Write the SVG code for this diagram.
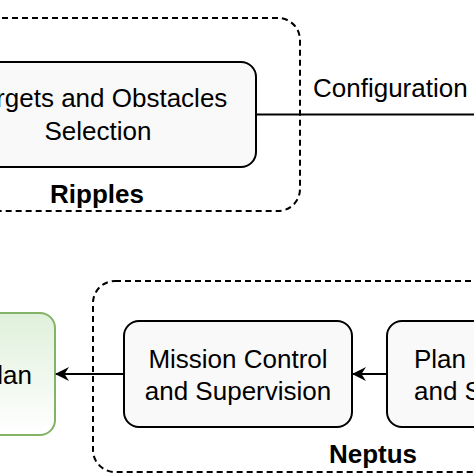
<svg xmlns="http://www.w3.org/2000/svg" width="474" height="474" viewBox="0 0 474 474">
<defs>
<linearGradient id="g" x1="0" y1="0" x2="0" y2="1">
<stop offset="0" stop-color="#dff0da"/>
<stop offset="1" stop-color="#ffffff"/>
</linearGradient>
<marker id="ah" viewBox="0 0 14 14" refX="13" refY="7" markerWidth="14" markerHeight="14" markerUnits="userSpaceOnUse" orient="auto">
<path d="M0,0 L14,7 L0,14 L4.5,7 Z" fill="#000"/>
</marker>
<style>
.t{font-family:"Liberation Sans",Arial,sans-serif;font-size:26px;fill:#000}
.b{font-family:"Liberation Sans",Arial,sans-serif;font-size:26px;font-weight:bold;fill:#000}
.grp{fill:none;stroke:#000;stroke-width:2;stroke-dasharray:6 4}
.box{fill:#f9f9f9;stroke:#000;stroke-width:2}
.ln{fill:none;stroke:#000;stroke-width:2}
</style>
</defs>
<rect width="474" height="474" fill="#fff"/>
<g id="ripples">
<rect class="grp" x="-80" y="18" width="380" height="193" rx="22"/>
<text class="b" x="97" y="203" text-anchor="middle">Ripples</text>
</g>
<g id="neptus">
<rect class="grp" x="93" y="281" width="420" height="191" rx="22"/>
<text class="b" x="373" y="463" text-anchor="middle">Neptus</text>
</g>
<g id="targets">
<rect class="box" x="-61" y="62" width="317" height="105" rx="15"/>
<text class="t" x="98" y="107" text-anchor="middle">Targets and Obstacles</text>
<text class="t" x="98" y="140" text-anchor="middle">Selection</text>
</g>
<g id="plan-out">
<rect x="-80" y="313" width="135" height="122" rx="15" fill="url(#g)" stroke="#82b366" stroke-width="2"/>
<text class="t" x="32" y="384" text-anchor="end">Plan</text>
</g>
<g id="mission">
<rect class="box" x="124" y="321" width="228" height="106" rx="15"/>
<text class="t" x="238" y="368" text-anchor="middle">Mission Control</text>
<text class="t" x="238" y="400" text-anchor="middle">and Supervision</text>
</g>
<g id="plan-gen">
<rect class="box" x="387" y="321" width="200" height="106" rx="15"/>
<text class="t" x="414" y="368">Plan</text>
<text class="t" x="414" y="400">and S</text>
</g>
<g id="connectors">
<line class="ln" x1="257" y1="114.5" x2="480" y2="114.5"/>
<text class="t" x="313" y="97">Configuration</text>
<line class="ln" x1="123" y1="374" x2="56" y2="374" marker-end="url(#ah)"/>
<line class="ln" x1="386" y1="374" x2="353" y2="374" marker-end="url(#ah)"/>
</g>
</svg>
